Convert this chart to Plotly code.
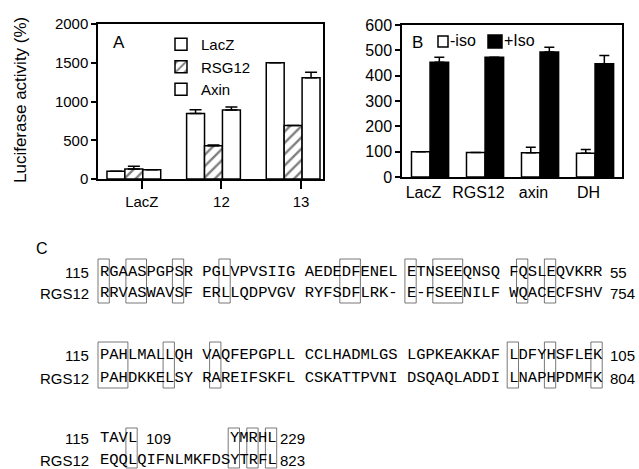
import numpy as np
import plotly.graph_objects as go

# ---------------- data ----------------
# Panel A
a_groups = ["LacZ", "12", "13"]
a_lacz = [100, 845, 1500]
a_lacz_err = [0, 48, 0]
a_rsg12 = [130, 430, 690]
a_rsg12_err = [35, 10, 0]
a_axin = [118, 890, 1305]
a_axin_err = [0, 40, 72]
a_yticks = [0, 500, 1000, 1500, 2000]

# Panel B
b_groups = ["LacZ", "RGS12", "axin", "DH"]
b_minus = [100, 97, 96, 94]
b_minus_err = [0, 0, 21, 15]
b_plus = [453, 473, 493, 447]
b_plus_err = [20, 0, 19, 33]
b_yticks = [0, 100, 200, 300, 400, 500, 600]
b_series = ["-iso", "+Iso"]

# Panel C (alignment)
c_names = ["115", "RGS12"]
c_block1 = ["RGAASPGPSR PGLVPVSIIG AEDEDFENEL ETNSEEQNSQ FQSLEQVKRR",
            "RRVASWAVSF ERLLQDPVGV RYFSDFLRK- E-FSEENILF WQACECFSHV"]
c_block1_end = ["55", "754"]
c_block1_boxes = [(0, 1), (3, 2), (8, 1), (13, 1), (26, 2), (33, 1), (36, 3), (45, 1), (48, 1)]
c_block2 = ["PAHLMALLQH VAQFEPGPLL CCLHADMLGS LGPKEAKKAF LDFYHSFLEK",
            "PAHDKKELSY RAREIFSKFL CSKATTPVNI DSQAQLADDI LNAPHPDMFK"]
c_block2_end = ["105", "804"]
c_block2_boxes = [(0, 3), (7, 1), (12, 1), (44, 1), (48, 1), (53, 1)]
c_block3_top = [("TAVL", 0, "109"), ("YMRHL", 14, "229")]
c_block3_bottom = [("EQQLQIFNLMKFDSYTRFL", 0, "823")]
c_block3_boxes = [(3, 1), (14, 1), (16, 1), (18, 1)]

# ---------------- layout helpers ----------------
W, H = 639, 469
def px(x):
    return x / W
def py(y):
    return 1 - y / H

SANS = "Liberation Sans, Arial, sans-serif"
MONO = "Liberation Mono, Courier New, monospace"

fig = go.Figure()

# ---------------- Panel A ----------------
xa = np.arange(len(a_groups))
fig.add_trace(go.Bar(
    x=xa, y=a_lacz, name="LacZ", legendgroup="a1",
    marker=dict(color="white", line=dict(color="black", width=1.5)),
    error_y=dict(type="data", array=a_lacz_err, arrayminus=[0]*3, symmetric=False,
                 color="black", thickness=1.5, width=6),
    xaxis="x", yaxis="y"))
fig.add_trace(go.Bar(
    x=xa, y=a_rsg12, name="RSG12", legendgroup="a2",
    marker=dict(color="white", line=dict(color="black", width=1.5),
                pattern=dict(shape="/", fgcolor="black", bgcolor="white", size=8, solidity=0.3)),
    error_y=dict(type="data", array=a_rsg12_err, arrayminus=[0]*3, symmetric=False,
                 color="black", thickness=1.5, width=6),
    xaxis="x", yaxis="y"))
fig.add_trace(go.Bar(
    x=xa, y=a_axin, name="Axin", legendgroup="a3",
    marker=dict(color="white", line=dict(color="black", width=1.5)),
    error_y=dict(type="data", array=a_axin_err, arrayminus=[0]*3, symmetric=False,
                 color="black", thickness=1.5, width=6),
    xaxis="x", yaxis="y"))

# ---------------- Panel B ----------------
xb = np.arange(len(b_groups))
fig.add_trace(go.Bar(
    x=xb, y=b_minus, name=b_series[0], showlegend=False,
    marker=dict(color="white", line=dict(color="black", width=1.5)),
    error_y=dict(type="data", array=b_minus_err, arrayminus=[0]*4, symmetric=False,
                 color="black", thickness=1.5, width=5),
    xaxis="x2", yaxis="y2"))
fig.add_trace(go.Bar(
    x=xb, y=b_plus, name=b_series[1], showlegend=False,
    marker=dict(color="black", line=dict(color="black", width=1.5)),
    error_y=dict(type="data", array=b_plus_err, arrayminus=[0]*4, symmetric=False,
                 color="black", thickness=1.5, width=5),
    xaxis="x2", yaxis="y2"))

axis_common = dict(showline=True, linecolor="black", linewidth=1.5, mirror=True,
                   showgrid=False, zeroline=False, ticks="outside", tickcolor="black",
                   tickwidth=1.5, ticklen=5, automargin=False)

fig.update_layout(
    width=W, height=H,
    margin=dict(l=0, r=0, t=0, b=0, pad=0, autoexpand=False),
    paper_bgcolor="white", plot_bgcolor="white",
    font=dict(family=SANS, color="black", size=15),
    barmode="group",
    bargap=0.325, bargroupgap=0,
    showlegend=True,
    xaxis=dict(axis_common, domain=[px(98), px(323)], range=[-0.45, 2.375],
               tickvals=xa + 0.1, ticktext=a_groups, ticklen=8,
               tickfont=dict(size=15), anchor="y"),
    yaxis=dict(axis_common, domain=[py(179), py(24)], range=[0, 2000],
               tickvals=a_yticks, tickfont=dict(size=15), anchor="x"),
    xaxis2=dict(axis_common, domain=[px(402), px(622)], range=[-0.51, 3.49],
                tickvals=xb - 0.12, ticktext=b_groups, ticks="",
                tickfont=dict(size=16), anchor="y2"),
    yaxis2=dict(axis_common, domain=[py(177), py(25)], range=[0, 600],
                tickvals=b_yticks, tickfont=dict(size=16), anchor="x2"),
    legend=dict(x=px(161), y=py(28), xanchor="left", yanchor="top",
                bgcolor="rgba(0,0,0,0)", font=dict(size=15), traceorder="grouped",
                tracegroupgap=0, borderwidth=0),
)

annotations = []
shapes = []

def free_text(x, y, s, size, angle=0):
    annotations.append(dict(text=s, x=px(x), y=py(y), xref="paper", yref="paper",
                            xanchor="center", yanchor="middle", textangle=angle,
                            showarrow=False, borderpad=0, font=dict(size=size, family=SANS)))

free_text(20, 100, "Luciferase activity (%)", 17, -90)
free_text(119, 43, "A", 17)
free_text(417, 42, "B", 17)
free_text(42, 248, "C", 16)

# Panel B key (drawn swatches + text)
for (sx0, sx1, sy0, sy1, fill, tx), label in zip(
        [(438, 448, 36, 47, "white", 449), (488, 502, 35, 48, "black", 503)], b_series):
    shapes.append(dict(type="rect", xref="paper", yref="paper",
                       x0=px(sx0), x1=px(sx1), y0=py(sy1), y1=py(sy0),
                       line=dict(color="black", width=1.5), fillcolor=fill))
    annotations.append(dict(text=label, x=px(tx), y=py(41), xref="paper", yref="paper",
                            xanchor="left", yanchor="middle", showarrow=False, borderpad=0,
                            font=dict(size=16, family=SANS)))

# ---------------- Panel C ----------------
SEQ_X0 = 99.0
CW = 9.3
SEQ_SIZE = CW / 0.6
row_y = [[272, 293], [355, 378], [438, 460]]

def seq_text(x, y, s):
    annotations.append(dict(text=s, x=px(x), y=py(y), xref="paper", yref="paper",
                            xanchor="left", yanchor="middle", showarrow=False, borderpad=0,
                            font=dict(size=SEQ_SIZE, family=MONO)))

def label_text(x, y, s, anchor):
    annotations.append(dict(text=s, x=px(x), y=py(y), xref="paper", yref="paper",
                            xanchor=anchor, yanchor="middle", showarrow=False, borderpad=0,
                            font=dict(size=15, family=SANS)))

def boxes(blist, ytop, ybot):
    for idx, ln in blist:
        shapes.append(dict(type="rect", xref="paper", yref="paper",
                           x0=px(SEQ_X0 + idx * CW - 1), x1=px(SEQ_X0 + (idx + ln) * CW + 1),
                           y0=py(ybot), y1=py(ytop),
                           line=dict(color="#555", width=0.8), fillcolor="rgba(0,0,0,0)"))

for block, ends, blist, ys in [(c_block1, c_block1_end, c_block1_boxes, row_y[0]),
                               (c_block2, c_block2_end, c_block2_boxes, row_y[1])]:
    for name, seq, end, y in zip(c_names, block, ends, ys):
        label_text(90, y, name, "right")
        seq_text(SEQ_X0, y, seq)
        label_text(SEQ_X0 + len(seq) * CW + 8, y, end, "left")
    boxes(blist, ys[0] - 13, ys[1] + 10)

ys = row_y[2]
label_text(90, ys[0], c_names[0], "right")
label_text(90, ys[1], c_names[1], "right")
for seq, start, end in c_block3_top:
    seq_text(SEQ_X0 + start * CW, ys[0], seq)
    gap = 9 if start == 0 else 3
    label_text(SEQ_X0 + (start + len(seq)) * CW + gap, ys[0], end, "left")
for seq, start, end in c_block3_bottom:
    seq_text(SEQ_X0 + start * CW, ys[1], seq)
    label_text(SEQ_X0 + (start + len(seq)) * CW + 3, ys[1], end, "left")
boxes(c_block3_boxes, ys[0] - 10, ys[1] + 8)

fig.update_layout(annotations=annotations, shapes=shapes)
fig.write_html("out.html", post_script="document.body.style.margin='0px';",
               config=dict(displayModeBar=False))
